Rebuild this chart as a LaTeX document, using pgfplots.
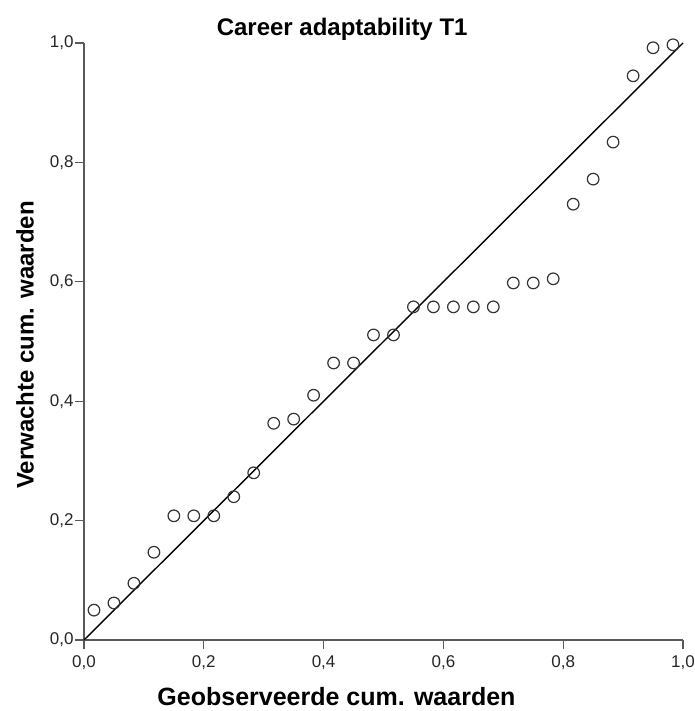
\documentclass[border=0pt]{standalone}
\usepackage{pgfplots}
\pgfplotsset{compat=1.18}
\usepackage{fontspec}
\setmainfont{Liberation Sans}
\begin{document}
\begin{tikzpicture}[x=1pt,y=1pt]
\useasboundingbox (-84,-71) rectangle (610,640);
\begin{axis}[
  at={(0,0)}, anchor=south west,
  scale only axis, width=599pt, height=597pt,
  xmin=0, xmax=1, ymin=0, ymax=1,
  axis lines=left,
  axis line style={draw=black!65, line width=1.3pt, -},
  xtick={0,0.2,0.4,0.6,0.8,1},
  ytick={0,0.2,0.4,0.6,0.8,1},
  tick style={draw=black!65, line width=1.3pt},
  tick align=outside,
  major tick length=9pt,
  clip=false,
  /pgf/number format/assume math mode=true,
  /pgf/number format/.cd, use comma, fixed, fixed zerofill, precision=1,
  /pgfplots/.cd,
  ticklabel style={font=\fontsize{17}{20}\selectfont, text=black!85},
  xticklabel style={yshift=-3pt},
  yticklabel style={xshift=2pt},
  title={Career adaptability T1},
  title style={font=\bfseries\fontsize{24}{28}\selectfont, at={(axis description cs:0.431,1)}, anchor=base, yshift=1pt},
  xlabel={Geobserveerde cum. waarden},
  xlabel style={font=\bfseries\fontsize{25}{28}\selectfont, at={(axis description cs:0.4215,0)}, anchor=base, yshift=-65pt},
  ylabel={Verwachte cum. waarden},
  ylabel style={font=\bfseries\fontsize{24}{28}\selectfont, at={(axis description cs:-0.0985,0.494)}, anchor=center},
]
\addplot[black, line width=1.4pt, no marks] coordinates {(0,0) (1,1)};
\addplot[only marks, mark=o, mark size=5.8pt, mark options={draw=black!80, line width=1.2pt}] coordinates {
(0.0167,0.050) (0.0500,0.062) (0.0833,0.095) (0.1167,0.147) (0.1500,0.208)
(0.1833,0.208) (0.2167,0.208) (0.2500,0.240) (0.2833,0.280) (0.3167,0.363)
(0.3500,0.370) (0.3833,0.410) (0.4167,0.464) (0.4500,0.464) (0.4833,0.511)
(0.5167,0.511) (0.5500,0.558) (0.5833,0.558) (0.6167,0.558) (0.6500,0.558)
(0.6833,0.558) (0.7167,0.598) (0.7500,0.598) (0.7833,0.605) (0.8167,0.730)
(0.8500,0.772) (0.8833,0.834) (0.9167,0.945) (0.9500,0.992) (0.9833,0.997)
};
\end{axis}
\end{tikzpicture}
\end{document}
